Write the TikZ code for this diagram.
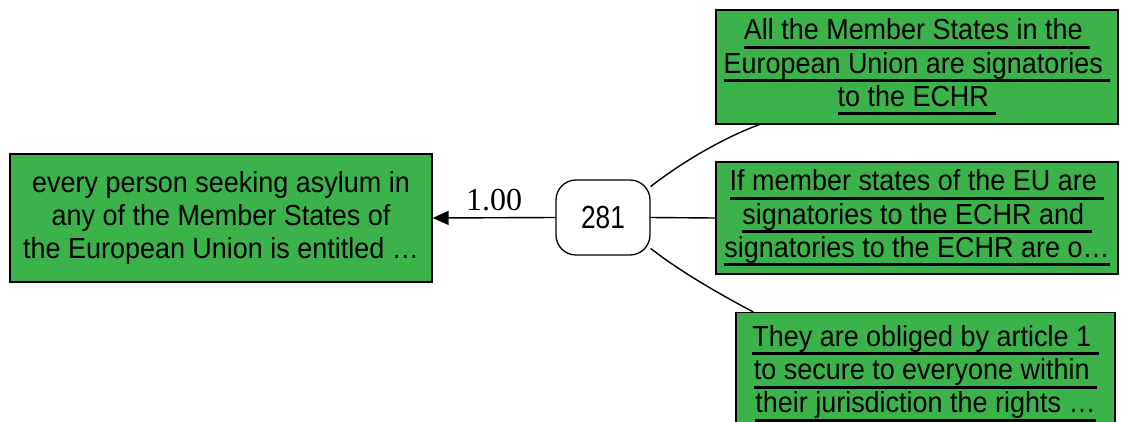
\documentclass[tikz,border=0pt]{standalone}
\usepackage{fontspec}
\setmainfont[FakeStretch=0.93]{Liberation Sans}
\newfontfamily\narrowfont[FakeStretch=0.82]{Liberation Sans}
\newfontfamily\numfont{Liberation Serif}
\usetikzlibrary{arrows.meta,calc}
\definecolor{boxgreen}{RGB}{59,179,74}
\newcommand\ulx[1]{\setbox0\hbox{#1}\rlap{\rule[-9pt]{\wd0}{3pt}}\box0}
\tikzset{
  claim/.style={draw=black, line width=1.3pt, fill=boxgreen, rectangle, align=center,
    inner sep=0pt, font=\fontsize{29}{33.3}\selectfont},
  hub/.style={draw=black, line width=1.3pt, fill=white, rectangle, rounded corners=20pt,
    minimum width=94pt, minimum height=75pt, inner sep=0pt, font=\narrowfont\fontsize{32}{36}\selectfont},
  link/.style={draw=black, line width=1.4pt},
}
\begin{document}
\begin{tikzpicture}[x=1pt,y=-1pt]
\useasboundingbox (0,0) rectangle (1128,421);
\clip (0,0) rectangle (1128,421);
\node[claim, minimum width=422pt, minimum height=128pt] (concl) at (221,218)
  {every person seeking asylum in\\any of the Member States of\\the European Union is entitled \dots};
\node[hub] (n281) at (603,217.5) {281};
\node[claim, minimum width=402pt, minimum height=114pt] (p1) at (917,67)
  {\ulx{All the Member States in the }\\\ulx{European Union are signatories }\\\ulx{to the ECHR }};
\node[claim, minimum width=402pt, minimum height=112pt] (p2) at (917,218)
  {\ulx{If member states of the EU are }\\\ulx{signatories to the ECHR and }\\\ulx{signatories to the ECHR are o\dots}};
\node[claim, minimum width=379pt, minimum height=122pt, anchor=north] (p3) at (925.5,312)
  {\ulx{They are obliged by article 1 }\\\ulx{to secure to everyone within }\\\ulx{their jurisdiction the rights \dots}};
\draw[link, -{Triangle[length=16pt,width=14pt]}] (n281.west) -- node[above=3pt, font=\numfont\fontsize{32}{34}\selectfont] {1.00} (concl.east);
\draw[link] (n281.33) .. controls (682,162) and (725,137) .. ($(p1.south west)+(44,0)$);
\draw[link] (n281.east) -- (p2.west);
\draw[link] (n281.-33) .. controls (682,273) and (725,297) .. ($(p3.north west)+(18,0)$);
\end{tikzpicture}
\end{document}
